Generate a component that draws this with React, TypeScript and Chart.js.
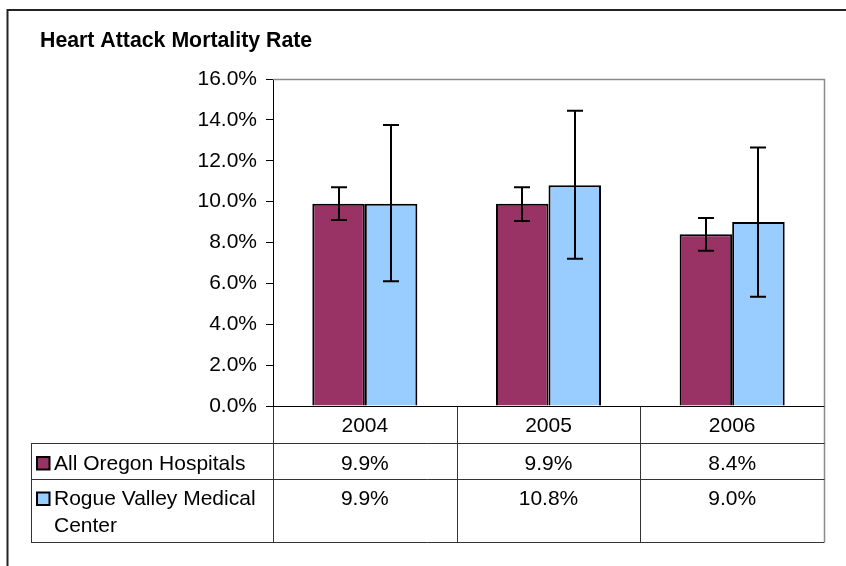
import React, { useEffect, useRef } from "react";
import { Chart, registerables } from "chart.js";

Chart.register(...registerables);

// ---- data ----
const TITLE = "Heart Attack Mortality Rate";
const YEARS = ["2004", "2005", "2006"];
const SERIES_NAMES = ["All Oregon Hospitals", "Rogue Valley Medical Center"];
const OREGON = [9.9, 9.9, 8.4];
const OREGON_LOW = [9.1, 9.05, 7.6];
const OREGON_HIGH = [10.7, 10.7, 9.2];
const RVMC = [9.9, 10.8, 9.0];
const RVMC_LOW = [6.1, 7.2, 5.35];
const RVMC_HIGH = [13.75, 14.45, 12.65];
const Y_MIN = 0;
const Y_MAX = 16;
const Y_STEP = 2;
const COLORS = ["#993366", "#99CCFF"];

const FONT = "'Liberation Sans', Arial, Helvetica, sans-serif";
const W = 846;
const H = 566;

const fmt = (v: number) => v.toFixed(1) + "%";

function wrapText(ctx: CanvasRenderingContext2D, text: string, maxW: number): string[] {
  const words = text.split(" ");
  const lines: string[] = [];
  let cur = "";
  for (const w of words) {
    const test = cur ? cur + " " + w : w;
    if (ctx.measureText(test).width > maxW && cur) {
      lines.push(cur);
      cur = w;
    } else {
      cur = test;
    }
  }
  if (cur) lines.push(cur);
  return lines;
}

const errorBarPlugin = {
  id: "errorBars",
  afterDatasetsDraw(chart: any) {
    const ctx = chart.ctx as CanvasRenderingContext2D;
    const y = chart.scales.y;
    ctx.save();
    ctx.strokeStyle = "#000";
    ctx.lineWidth = 2;
    chart.data.datasets.forEach((ds: any, d: number) => {
      const meta = chart.getDatasetMeta(d);
      meta.data.forEach((el: any, i: number) => {
        const x = Math.round(el.x);
        const yHi = y.getPixelForValue(ds.errHigh[i]);
        const yLo = y.getPixelForValue(ds.errLow[i]);
        const cap = 8;
        ctx.beginPath();
        ctx.moveTo(x, yHi);
        ctx.lineTo(x, yLo);
        ctx.moveTo(x - cap, yHi);
        ctx.lineTo(x + cap, yHi);
        ctx.moveTo(x - cap, yLo);
        ctx.lineTo(x + cap, yLo);
        ctx.stroke();
      });
    });
    ctx.restore();
  },
};

const framePlugin = {
  id: "frameAndTable",
  afterDraw(chart: any) {
    const ctx = chart.ctx as CanvasRenderingContext2D;
    const a = chart.chartArea;
    const n = YEARS.length;
    const colW = (a.right - a.left) / n;
    const xs = chart.scales.x;

    ctx.save();
    // outer frame (left + top)
    ctx.strokeStyle = "#222";
    ctx.lineWidth = 2;
    ctx.beginPath();
    ctx.moveTo(7.5, H);
    ctx.lineTo(7.5, 10);
    ctx.lineTo(W, 10);
    ctx.stroke();

    // title
    ctx.fillStyle = "#000";
    ctx.font = `bold 21.3px ${FONT}`;
    ctx.textAlign = "left";
    ctx.textBaseline = "alphabetic";
    ctx.fillText(TITLE, 40, 47);

    // plot area border: top and right gray
    ctx.strokeStyle = "#8a8a8a";
    ctx.lineWidth = 1.5;
    ctx.beginPath();
    ctx.moveTo(a.left, a.top + 0.5);
    ctx.lineTo(a.right + 0.5, a.top + 0.5);
    ctx.lineTo(a.right + 0.5, 542);
    ctx.stroke();

    // table geometry
    const tLeft = 31;
    const tRight = a.right + 0.5;
    const rowTop = a.bottom;
    const r1 = 443;
    const r2 = 479;
    const rBot = 542;

    ctx.strokeStyle = "#333";
    ctx.lineWidth = 1;
    ctx.beginPath();
    ctx.moveTo(a.left, Math.round(rowTop) + 0.5);
    ctx.lineTo(tRight, Math.round(rowTop) + 0.5);
    [r1, r2, rBot].forEach((yy) => {
      ctx.moveTo(tLeft, yy + 0.5);
      ctx.lineTo(tRight, yy + 0.5);
    });
    ctx.moveTo(tLeft + 0.5, r1);
    ctx.lineTo(tLeft + 0.5, rBot + 1);
    for (let i = 0; i < n; i++) {
      const x = Math.round(a.left + i * colW) + 0.5;
      ctx.moveTo(x, rowTop);
      ctx.lineTo(x, rBot + 1);
    }
    ctx.stroke();

    // axis line black
    ctx.strokeStyle = "#000";
    ctx.beginPath();
    ctx.moveTo(a.left - 7, Math.round(a.bottom) + 0.5);
    ctx.lineTo(a.right, Math.round(a.bottom) + 0.5);
    ctx.stroke();

    // header labels
    ctx.fillStyle = "#000";
    ctx.font = `21px ${FONT}`;
    ctx.textAlign = "center";
    YEARS.forEach((yr, i) => {
      const cx = xs.getPixelForValue(i);
      ctx.fillText(yr, cx, 432);
    });

    // rows
    const baselines = [469.5, 505];
    chart.data.datasets.forEach((ds: any, d: number) => {
      const base = baselines[d];
      ctx.fillStyle = COLORS[d];
      ctx.fillRect(37, base - 12.5, 12.5, 12.5);
      ctx.strokeStyle = "#000";
      ctx.lineWidth = 2;
      ctx.strokeRect(37, base - 12.5, 12.5, 12.5);
      ctx.fillStyle = "#000";
      ctx.font = `21px ${FONT}`;
      ctx.textAlign = "left";
      const lines = wrapText(ctx, SERIES_NAMES[d], a.left - 54 - 6);
      lines.forEach((ln, k) => ctx.fillText(ln, 54, base + k * 27));
      ctx.textAlign = "center";
      ds.data.forEach((v: number, i: number) => {
        ctx.fillText(fmt(v), xs.getPixelForValue(i), base);
      });
    });
    ctx.restore();
  },
};

export default function App() {
  const ref = useRef<HTMLCanvasElement | null>(null);

  useEffect(() => {
    if (!ref.current) return;
    const chart = new Chart(ref.current, {
      type: "bar",
      data: {
        labels: YEARS,
        datasets: [
          {
            label: SERIES_NAMES[0],
            data: OREGON,
            backgroundColor: COLORS[0],
            borderColor: "#000",
            borderWidth: 2,
            borderSkipped: "bottom",
            categoryPercentage: 0.572,
            barPercentage: 1,
            errLow: OREGON_LOW,
            errHigh: OREGON_HIGH,
          } as any,
          {
            label: SERIES_NAMES[1],
            data: RVMC,
            backgroundColor: COLORS[1],
            borderColor: "#000",
            borderWidth: 2,
            borderSkipped: "bottom",
            categoryPercentage: 0.572,
            barPercentage: 1,
            errLow: RVMC_LOW,
            errHigh: RVMC_HIGH,
          } as any,
        ],
      },
      options: {
        responsive: false,
        animation: false,
        devicePixelRatio: 1,
        layout: { padding: { left: 0, top: 79, right: 22, bottom: 160 } },
        plugins: {
          legend: { display: false },
          title: { display: false },
          tooltip: { enabled: false },
        },
        scales: {
          x: { display: false },
          y: {
            min: Y_MIN,
            max: Y_MAX,
            afterFit: (s: any) => {
              s.width = 273;
            },
            ticks: {
              stepSize: Y_STEP,
              padding: 9,
              color: "#000",
              font: { family: FONT, size: 21 },
              callback: (v: any) => fmt(Number(v)),
            },
            grid: {
              drawOnChartArea: false,
              drawTicks: true,
              tickLength: 7,
              color: "#000",
            },
            border: { display: true, color: "#000", width: 1 },
          },
        },
      },
      plugins: [errorBarPlugin, framePlugin],
    });
    return () => chart.destroy();
  }, []);

  return (
    <div style={{ position: "absolute", left: 0, top: 0, width: W, height: H, background: "#fff" }}>
      <canvas ref={ref} width={W} height={H} style={{ display: "block" }} />
    </div>
  );
}
